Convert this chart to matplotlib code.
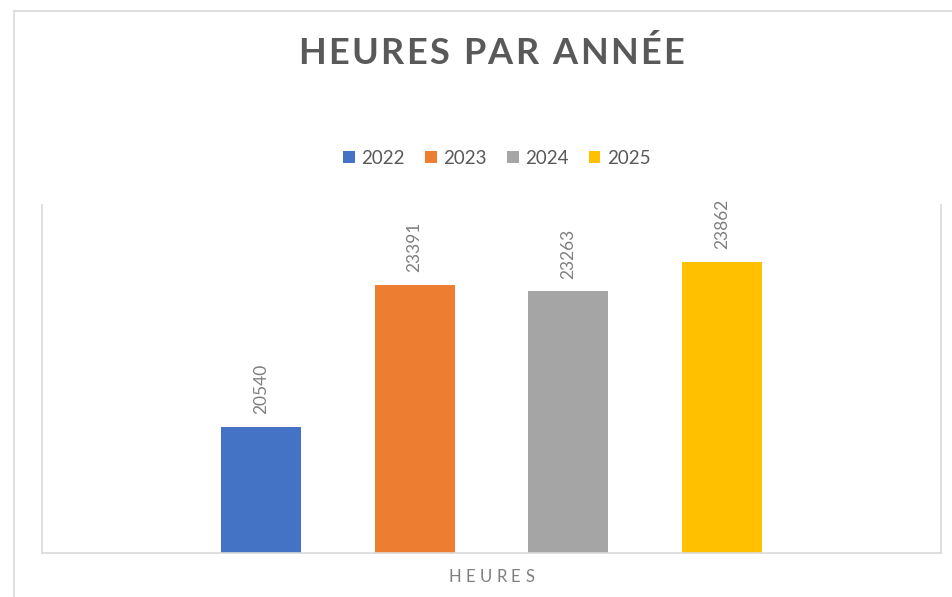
import matplotlib
matplotlib.use("Agg")
import matplotlib.pyplot as plt
from matplotlib.patches import Rectangle

years = ["2022", "2023", "2024", "2025"]
hours = [20540, 23391, 23263, 23862]
colors = ["#4472C4", "#ED7D31", "#A5A5A5", "#FFC000"]
title = "HEURES PAR ANNÉE"
category = "HEURES"

plt.rcParams['font.family'] = ['Lato', 'DejaVu Sans']

W, H = 952, 597
fig = plt.figure(figsize=(W / 100, H / 100), dpi=100)
renderer = fig.canvas.get_renderer()


def spaced_text(x, y, s, gap, space_w, **kw):
    # draw each letter on its own so the word gets Excel-like letter spacing
    texts = []
    widths = []
    for c in s:
        if c == " ":
            texts.append(None)
            widths.append(space_w)
            continue
        t = fig.text(0, y, c, ha="left", va="center", **kw)
        texts.append(t)
        widths.append(t.get_window_extent(renderer).width)
    total = sum(widths) + gap * (len(s) - 1)
    cur = x - total / 2
    for t, w in zip(texts, widths):
        if t is not None:
            t.set_x(cur / W)
        cur += w + gap


# outer chart border (cut by the image edge on right and bottom)
fig.patches.append(Rectangle((14 / W, -0.1), 1.2, 1 - 11 / H + 0.1, transform=fig.transFigure,
                             fill=False, edgecolor="#D9D9D9", linewidth=1.2))

ax = fig.add_axes([42 / W, 1 - 553 / H, (941 - 42) / W, (553 - 205) / H])
x = range(len(years))
bars = ax.bar(x, hours, width=0.52, color=colors, label=years, zorder=2)

for xi, v in zip(x, hours):
    ax.annotate(str(v), (xi, v), xytext=(0, 9), textcoords="offset points",
                rotation=90, ha="center", va="bottom", fontsize=12.5, color="#7F7F7F")

ax.set_xlim(-1.427, 4.427)
ax.set_ylim(18000, 25000)
ax.set_xticks([])
ax.set_yticks([])
for side in ["left", "right", "bottom"]:
    ax.spines[side].set_color("#D9D9D9")
    ax.spines[side].set_linewidth(1.2)
ax.spines["top"].set_visible(False)

fig.legend(handles=bars, labels=years, loc="center", bbox_to_anchor=(497 / W, 1 - 158 / H),
           ncol=4, frameon=False, fontsize=13.5, handlelength=0.6, handleheight=0.6,
           handletextpad=0.35, columnspacing=1.1, labelcolor="#595959")

spaced_text(491, 1 - 53 / H, title, 2.2, 10, fontsize=26, fontweight="bold", color="#595959")
spaced_text(491, 1 - 577 / H, category, 4.5, 5, fontsize=12, color="#7F7F7F")

fig.savefig("out.png", dpi=100)
